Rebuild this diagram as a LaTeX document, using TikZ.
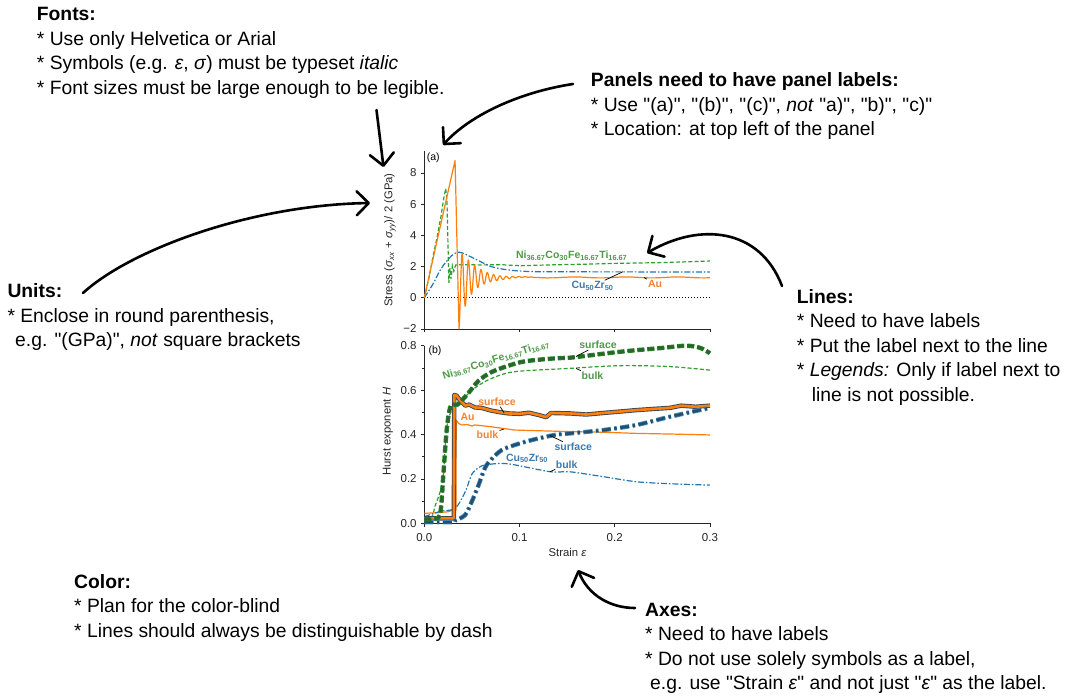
\documentclass[tikz,border=0pt]{standalone}
\usepackage{fontspec}
\setmainfont{Liberation Sans}[Ligatures=TeXOff]
\usetikzlibrary{arrows.meta}

\definecolor{auorange}{HTML}{FF7F0E}
\definecolor{cuzrblue}{HTML}{1F77B4}
\definecolor{nigreen}{HTML}{2CA02C}
\definecolor{aulabel}{HTML}{F0843A}
\definecolor{cuzrlabel}{HTML}{3D7AAE}
\definecolor{nilabel}{HTML}{4E9A48}
\definecolor{audark}{HTML}{3A4550}
\definecolor{cuzrdark}{HTML}{24506E}
\definecolor{nidark}{HTML}{2A6530}

\tikzset{
  note/.style={anchor=base west, inner sep=0pt, font=\fontsize{19.3}{23}\selectfont},
  notehead/.style={note, font=\fontsize{19.3}{23}\selectfont\bfseries},
  hand/.style={line width=2.6pt, line cap=round, line join=round,
    -{Straight Barb[length=12pt, width=24pt, round]}},
  axis/.style={line width=0.8pt, black!85},
  ticklbl/.style={inner sep=0pt, font=\fontsize{11.5}{13}\selectfont, text=black!85},
  axlbl/.style={inner sep=0pt, font=\fontsize{11.3}{13}\selectfont, text=black!85},
  panellbl/.style={inner sep=0pt, font=\fontsize{10.5}{12}\selectfont},
  linelbl/.style={inner sep=1pt, font=\fontsize{10.5}{12}\selectfont\bfseries},
  leader/.style={line width=0.7pt, black},
  aubulk/.style={line width=1.2pt, auorange, line join=round},
  nibulk/.style={line width=1.2pt, nigreen, dash pattern=on 4pt off 2.2pt},
  cuzrbulk/.style={line width=1.2pt, cuzrblue, dash pattern=on 6pt off 2pt on 1.5pt off 2pt},
  ausurf/.style={line width=0.9pt, draw=audark, double=auorange, double distance=2.6pt, line join=round},
  nisurf/.style={line width=0.8pt, draw=nigreen!85!black, double=nidark, double distance=2.8pt,
    dash pattern=on 7pt off 3pt},
  cuzrsurf/.style={line width=0.8pt, draw=cuzrblue!85, double=cuzrdark, double distance=2.8pt,
    dash pattern=on 9pt off 3.5pt on 2.5pt off 3.5pt},
}

\begin{document}
\begin{tikzpicture}[x=1pt, y=-1pt]
  \path[fill=white] (0,0) rectangle (1065,699);

  % notes
  \node[notehead] (fonts) at (36.7,20.7) {Fonts:};
  \node[note] (fonts1) at (36.7,45.2) {* Use only Helvetica or Arial};
  \node[note] (fonts2) at (36.7,69.7) {* Symbols (e.g. \textit{ε}, \textit{σ}) must be typeset \textit{italic}};
  \node[note] (fonts3) at (36.7,94.2) {* Font sizes must be large enough to be legible.};

  \node[notehead] (panels) at (590.7,86.7) {Panels need to have panel labels:};
  \node[note] (panels1) at (590.7,111.2) {* Use "(a)", "(b)", "(c)", \textit{not} "a)", "b)", "c)"};
  \node[note] (panels2) at (590.7,135.7) {* Location: at top left of the panel};

  \node[notehead] (units) at (7.3,297.7) {Units:};
  \node[note] (units1) at (7.3,322.2) {* Enclose in round parenthesis,};
  \node[note] (units2) at (15,346.7) {e.g. "(GPa)", \textit{not} square brackets};

  \node[notehead] (lines) at (796.7,303.3) {Lines:};
  \node[note] (lines1) at (796.7,327.8) {* Need to have labels};
  \node[note] (lines2) at (796.7,352.3) {* Put the label next to the line};
  \node[note] (lines3) at (796.7,376.8) {* \textit{Legends:} Only if label next to};
  \node[note] (lines4) at (811.7,401.3) {line is not possible.};

  \node[notehead] (colors) at (74,588.3) {Color:};
  \node[note] (colors1) at (74,612.8) {* Plan for the color-blind};
  \node[note] (colors2) at (74,637.3) {* Lines should always be distinguishable by dash};

  \node[notehead] (axes) at (645,616) {Axes:};
  \node[note] (axes1) at (645,640.5) {* Need to have labels};
  \node[note] (axes2) at (645,665) {* Do not use solely symbols as a label,};
  \node[note] (axes3) at (650,689.5) {e.g. use "Strain \textit{ε}" and not just "\textit{ε}" as the label.};

  % hand drawn arrows
  \coordinate (fontsFrom) at (376.5,110);
  \coordinate (fontsTo) at (383.5,167);
  \coordinate (panelsFrom) at (573,84);
  \coordinate (panelsTo) at (443,145);
  \coordinate (unitsFrom) at (83,293);
  \coordinate (unitsTo) at (370,203);
  \coordinate (linesFrom) at (782,286);
  \coordinate (linesTo) at (647,253);
  \coordinate (axesFrom) at (635,608);
  \coordinate (axesTo) at (578,570);
  \draw[hand] (fontsFrom) -- (fontsTo);
  \draw[hand] (panelsFrom) .. controls (520,92) and (470,115) .. (panelsTo);
  \draw[hand] (unitsFrom) .. controls (130,250) and (250,205) .. (unitsTo);
  \draw[hand] (linesFrom) .. controls (760,228) and (700,222) .. (linesTo);
  \draw[hand] (axesFrom) .. controls (610,608) and (588,595) .. (axesTo);

  % panel (a)
  \begin{scope}[shift={(424.3,297.7)}, x=952pt, y=15.6pt]
    \draw[axis] (0,9.4) -- (0,-2) -- (0.3,-2);
    \foreach \v/\t in {-2/−2,0/0,2/2,4/4,6/6,8/8}
      \draw[axis] (0,\v) -- ++(-3.5pt,0) node[ticklbl, anchor=east, xshift=-3.8pt] (ya\v) {\t};
    \foreach \s in {0,0.1,0.2,0.3}
      \draw[axis] (\s,-2) -- ++(0,-3.5pt);
    \draw[black, line width=1pt, dash pattern=on 1pt off 2pt] (0,0) -- (0.3,0);
    \draw[nibulk] (0,0) -- (0.005,1.3) -- (0.009,2.6) -- (0.0135,3.9) -- (0.0175,5.2)
      -- (0.0205,6.4) -- (0.0225,7.0) -- (0.0238,6.2) -- (0.0258,0.95) -- (0.027,1.9)
      -- (0.028,1.2) -- (0.0295,2.05) -- (0.031,1.7) -- (0.033,2.1) -- (0.04,2.12)
      -- (0.06,2.1) -- (0.08,2.12) -- (0.1,2.05) -- (0.13,2.1) -- (0.17,2.15)
      -- (0.2,2.2) -- (0.25,2.25) -- (0.3,2.35);
    \draw[cuzrbulk] plot[smooth, tension=0.5] coordinates {(0,0) (0.0095,0.92) (0.018,1.9)
      (0.0288,2.7) (0.035,2.9) (0.04,2.87) (0.053,2.5) (0.07,2.0) (0.088,1.78) (0.11,1.68)
      (0.15,1.66) (0.3,1.65)};
    \draw[aubulk] (0,0) -- (0.0323,8.8) -- plot[domain=0:251, samples=500]
      ({0.03645+\x/952}, {1.3+0.03*sin(7*\x)-0.8*exp(max(-\x/6,-8))-2.5*exp(max(-\x/14,-8))*cos(57.14*\x)});
  \end{scope}
  \node[panellbl] (pa) at (433.3,157.5) {(a)};
  \node[axlbl, rotate=90] (ylblA) at (390,240)
    {Stress (\textit{σ}\textsubscript{\textit{xx}} + \textit{σ}\textsubscript{\textit{yy}})/ 2 (GPa)};
  \node[linelbl, text=nilabel] (niA) at (571.7,255.5)
    {Ni\textsubscript{36.67}Co\textsubscript{30}Fe\textsubscript{16.67}Ti\textsubscript{16.67}};
  \node[linelbl, text=cuzrlabel] (cuzrA) at (592.5,286) {Cu\textsubscript{50}Zr\textsubscript{50}};
  \node[linelbl, text=aulabel] (auA) at (655,284) {Au};
  \coordinate (cuzrAend) at (623,271.7);
  \coordinate (auAend) at (644,277.5);
  \draw[leader] (cuzrA) -- (cuzrAend);
  \draw[leader] (auA) -- (auAend);

  % panel (b)
  \begin{scope}[shift={(424.3,523.3)}, x=952pt, y=222pt]
    \draw[axis] (0,0.8) -- (0,0) -- (0.3,0);
    \foreach \v [count=\i] in {0.0,0.2,0.4,0.6,0.8}
      \draw[axis] (0,\v) -- ++(-3.5pt,0) node[ticklbl, anchor=east, xshift=-3.8pt] (yb\i) {\v};
    \foreach \v in {0.1,0.3,0.5,0.7}
      \draw[axis] (0,\v) -- ++(-2pt,0);
    \foreach \s [count=\i] in {0.0,0.1,0.2,0.3}
      \draw[axis] (\s,0) -- ++(0,-3.5pt) node[ticklbl, anchor=north, yshift=-6.5pt] (xb\i) {\s};
    \draw[nibulk] plot[smooth, tension=0.5] coordinates {(0,0.02) (0.008,0.03) (0.0115,0.08)
      (0.0165,0.14) (0.02,0.22) (0.0235,0.43) (0.0288,0.51) (0.0358,0.54) (0.0532,0.61)
      (0.0708,0.653) (0.0952,0.683) (0.153,0.698) (0.2055,0.71) (0.258,0.706) (0.3,0.69)};
    \draw[aubulk] (0,0.045) -- (0.015,0.048) -- (0.025,0.052) -- (0.03,0.06) -- (0.0333,0.06)
      -- (0.0335,0.465) -- (0.036,0.45) -- (0.0393,0.443) -- (0.045,0.445) -- (0.05,0.438)
      -- (0.053,0.443) -- (0.06,0.44) -- (0.07,0.435) -- (0.0952,0.42) -- (0.12,0.417)
      -- (0.153,0.413) -- (0.19,0.41) -- (0.223,0.405) -- (0.26,0.402) -- (0.3,0.398);
    \draw[cuzrbulk] plot[smooth, tension=0.5] coordinates {(0,0.03) (0.018,0.055) (0.0323,0.067)
      (0.0428,0.14) (0.0498,0.22) (0.0568,0.25) (0.0638,0.263) (0.0813,0.27) (0.0952,0.263)
      (0.133,0.232) (0.153,0.232) (0.188,0.21) (0.223,0.187) (0.26,0.178) (0.3,0.172)};
    \draw[ausurf] (0,0.022) -- (0.031,0.022) -- (0.0315,0.578) -- (0.034,0.575) -- (0.0375,0.555)
      -- (0.043,0.53) -- (0.047,0.535) -- (0.053,0.522) -- (0.06,0.52) -- (0.07,0.508)
      -- (0.08,0.5) -- (0.0885,0.495) -- (0.1,0.493) -- (0.11,0.498) -- (0.12,0.488)
      -- (0.128,0.478) -- (0.133,0.497) -- (0.153,0.495) -- (0.17,0.49) -- (0.188,0.497)
      -- (0.21,0.505) -- (0.223,0.51) -- (0.24,0.515) -- (0.258,0.52) -- (0.27,0.53)
      -- (0.285,0.525) -- (0.3,0.53);
    \draw[cuzrsurf] plot[smooth, tension=0.5] coordinates {(0,0.005) (0.03,0.005) (0.0323,0.012)
      (0.0428,0.037) (0.0498,0.097) (0.0568,0.17) (0.0638,0.25) (0.0708,0.29) (0.0813,0.33)
      (0.0952,0.353) (0.1128,0.375) (0.137,0.398) (0.153,0.405) (0.188,0.42) (0.223,0.443)
      (0.258,0.48) (0.3,0.52)};
    \draw[nisurf] plot[smooth, tension=0.5] coordinates {(0,0.02) (0.008,0.02) (0.0165,0.04)
      (0.02,0.22) (0.0235,0.42) (0.027,0.52) (0.031,0.535) (0.035,0.535) (0.046,0.585)
      (0.0565,0.64) (0.07,0.68) (0.0885,0.71) (0.106,0.73) (0.137,0.743) (0.153,0.746)
      (0.171,0.755) (0.2,0.77) (0.223,0.78) (0.25,0.79) (0.275,0.8) (0.29,0.79) (0.3,0.766)};
  \end{scope}
  \node[panellbl] (pb) at (435,350.8) {(b)};
  \node[axlbl, rotate=90] (ylblB) at (388,431.7) {Hurst exponent \textit{H}};
  \node[axlbl] (xlblB) at (567.5,552.5) {Strain \textit{ε}};

  \node[linelbl, text=nilabel, rotate=17.5] (niB) at (496,360)
    {Ni\textsubscript{36.67}Co\textsubscript{30}Fe\textsubscript{16.67}Ti\textsubscript{16.67}};
  \node[linelbl, text=nilabel] (niSurfB) at (598,345) {surface};
  \node[linelbl, text=nilabel] (niBulkB) at (592.5,375.7) {bulk};
  \node[linelbl, text=aulabel] (auSurfB) at (497,401.7) {surface};
  \node[linelbl, text=aulabel] (auB) at (467.5,416.7) {Au};
  \node[linelbl, text=aulabel] (auBulkB) at (487.5,434.3) {bulk};
  \node[linelbl, text=cuzrlabel] (cuzrSurfB) at (573.3,446.7) {surface};
  \node[linelbl, text=cuzrlabel] (cuzrB) at (527,458.3) {Cu\textsubscript{50}Zr\textsubscript{50}};
  \node[linelbl, text=cuzrlabel] (cuzrBulkB) at (566.7,464.3) {bulk};
  \coordinate (niSurfEnd) at (576,356.5);
  \coordinate (niBulkEnd) at (576,368.5);
  \coordinate (auSurfEnd) at (504,412.7);
  \coordinate (auBulkEnd) at (504,429);
  \coordinate (cuzrSurfEnd) at (550,435.5);
  \coordinate (cuzrBulkEnd) at (550,471.7);
  \draw[leader] (niSurfB) -- (niSurfEnd);
  \draw[leader] (niBulkB) -- (niBulkEnd);
  \draw[leader] (auSurfB) -- (auSurfEnd);
  \draw[leader] (auBulkB) -- (auBulkEnd);
  \draw[leader] (cuzrSurfB) -- (cuzrSurfEnd);
  \draw[leader] (cuzrBulkB) -- (cuzrBulkEnd);
\end{tikzpicture}
\end{document}
